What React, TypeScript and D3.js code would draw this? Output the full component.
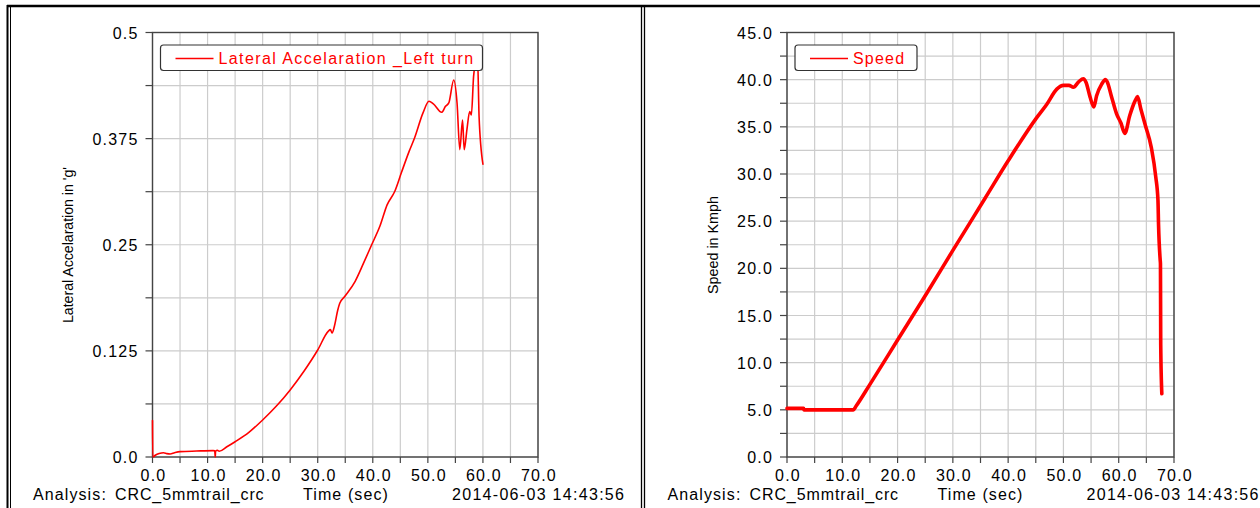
import React from "react";
import * as d3 from "d3";

// ---------- DATA ----------
const latTime = [0, 0.05, 0.5, 1.2, 2.0, 2.6, 3.2, 4.0, 5.0, 8.0, 11.0, 11.3, 11.4, 11.45, 11.8, 12.1, 13.5, 15.0, 17.5, 20, 22.5, 25, 27.5, 30, 31.9, 32.3, 32.6, 33.1, 33.6, 34.0, 34.9, 36.8, 38.3, 39.8, 41.3, 42.6, 44.0, 45.2, 46.6, 47.6, 49.1, 50.2, 51.0, 52.5, 53.2, 53.8, 54.7, 55.3, 55.8, 56.3, 56.6, 57.1, 57.6, 57.9, 58.3, 58.7, 59.0, 59.3, 60.0];
const latValue = [0.043, 0.0, 0.002, 0.004, 0.005, 0.004, 0.0035, 0.005, 0.0063, 0.007, 0.0075, 0.0072, 0.0, 0.007, 0.008, 0.0068, 0.012, 0.018, 0.029, 0.0436, 0.06, 0.079, 0.101, 0.126, 0.148, 0.15, 0.146, 0.156, 0.172, 0.181, 0.189, 0.207, 0.228, 0.25, 0.272, 0.297, 0.313, 0.335, 0.36, 0.376, 0.405, 0.419, 0.416, 0.406, 0.413, 0.417, 0.444, 0.417, 0.362, 0.397, 0.362, 0.386, 0.407, 0.403, 0.448, 0.468, 0.475, 0.401, 0.345];

const spdTime = [0, 3.0, 3.05, 12.0, 12.5, 15, 20, 25, 30, 35.8, 40, 45.2, 47, 48.8, 50, 51, 51.8, 52.8, 53.6, 54.1, 54.8, 55.5, 56.0, 56.9, 57.6, 57.9, 58.7, 59.6, 60.4, 61.1, 62.0, 63.0, 63.4, 64.0, 64.8, 65.9, 66.7, 67.1, 67.2, 67.5, 67.55, 67.6, 67.8];
const spdValue = [5.15, 5.15, 5.0, 5.0, 5.4, 7.7, 12.4, 17.1, 21.9, 27.4, 31.4, 36.0, 37.4, 39.0, 39.4, 39.4, 39.2, 39.8, 40.1, 39.7, 38.2, 37.1, 38.3, 39.5, 40.0, 39.8, 38.2, 36.4, 35.4, 34.3, 36.2, 37.8, 38.2, 36.9, 35.2, 32.8, 29.7, 27.2, 24.7, 20.9, 20.5, 11.9, 6.7];

const xTicks = [0, 10, 20, 30, 40, 50, 60, 70];
const latTicks = [0, 0.125, 0.25, 0.375, 0.5];
const latTickLabels = ["0.0", "0.125", "0.25", "0.375", "0.5"];
const spdTicks = [0, 5, 10, 15, 20, 25, 30, 35, 40, 45];

const footer = ["Analysis:", "CRC_5mmtrail_crc", "Time (sec)", "2014-06-03 14:43:56"];

const FONT = "'Liberation Sans', Arial, sans-serif";
const RED = "#ff0000";
const TXT = "#000";

type PanelProps = {
  ox: number;
  x0: number;
  x1: number;
  yMax: number;
  yTicks: number[];
  yLabels: string[];
  yMinorStep: number;
  yTitle: string;
  yTitleX: number;
  yTitleLen: number;
  times: number[];
  values: number[];
  strokeW: number;
  legend: string;
  legendW: number;
  legendLS: number;
};

function Panel(p: PanelProps) {
  const y0 = 32.5, y1 = 457;
  const x = d3.scaleLinear().domain([0, 70]).range([p.x0, p.x1]);
  const y = d3.scaleLinear().domain([0, p.yMax]).range([y1, y0]);
  const xGrid = d3.range(0, 70.001, 5);
  const yGrid = d3.range(0, p.yMax + 1e-9, p.yMinorStep);
  const pts: [number, number][] = p.times.map((t, i) => [t, p.values[i]]);
  const line = d3
    .line<[number, number]>()
    .x((d) => x(d[0]))
    .y((d) => y(d[1]))
    .curve(d3.curveMonotoneX);
  const lx = p.x0 + 8;
  return (
    <g fontFamily={FONT}>
      {xGrid.map((g) => (
        <line key={"gx" + g} x1={x(g)} x2={x(g)} y1={y0} y2={y1} stroke="#cccccc" strokeWidth={1.2} />
      ))}
      {yGrid.map((g) => (
        <line key={"gy" + g} x1={p.x0} x2={p.x1} y1={y(g)} y2={y(g)} stroke="#cccccc" strokeWidth={1.2} />
      ))}
      {yGrid.map((g) => (
        <line key={"ty" + g} x1={p.x0 - 7} x2={p.x0} y1={y(g)} y2={y(g)} stroke="#444" strokeWidth={1.2} />
      ))}
      {xGrid.map((g) => (
        <line key={"tx" + g} x1={x(g)} x2={x(g)} y1={y1} y2={y1 + 6} stroke="#444" strokeWidth={1.2} />
      ))}
      <rect x={p.x0} y={y0} width={p.x1 - p.x0} height={y1 - y0} fill="none" stroke="#444" strokeWidth={1.4} />
      <path d={line(pts) || ""} fill="none" stroke={RED} strokeWidth={p.strokeW} strokeLinejoin="round" strokeLinecap="round" />
      <rect x={lx} y={45} width={p.legendW} height={25.5} rx={3} fill="#fff" stroke="#333" strokeWidth={1.2} />
      <line x1={lx + 15} x2={lx + 53} y1={58.5} y2={58.5} stroke={RED} strokeWidth={1.6} />
      <text x={lx + 58} y={64} fontSize={16} fill={RED} letterSpacing={p.legendLS}>{p.legend}</text>
      {p.yTicks.map((t, i) => (
        <text key={"yl" + t} x={p.x0 - 14} y={y(t) + 6} fontSize={16} textAnchor="end" letterSpacing={1.2} fill={TXT}>{p.yLabels[i]}</text>
      ))}
      {xTicks.map((t) => (
        <text key={"xl" + t} x={x(t) + 1} y={480.5} fontSize={16} textAnchor="middle" letterSpacing={1.2} fill={TXT}>{t.toFixed(1)}</text>
      ))}
      <text transform={`translate(${p.yTitleX},245) rotate(-90)`} fontSize={14} textAnchor="middle" textLength={p.yTitleLen} lengthAdjust="spacingAndGlyphs" fill={TXT}>{p.yTitle}</text>
      <text x={p.ox + 33} y={500} fontSize={16} letterSpacing={1.1} fill={TXT}>{footer[0]}</text>
      <text x={p.ox + 115} y={500} fontSize={16} letterSpacing={0.9} fill={TXT}>{footer[1]}</text>
      <text x={p.ox + 303} y={500} fontSize={16} letterSpacing={1.1} fill={TXT}>{footer[2]}</text>
      <text x={p.ox + 452} y={500} fontSize={16} letterSpacing={1.3} fill={TXT}>{footer[3]}</text>
    </g>
  );
}

export default function App() {
  return (
    <svg width={1260} height={508} style={{ position: "absolute", left: 0, top: 0, background: "#fff" }}>
      <rect x={0} y={0} width={1260} height={508} fill="#fff" />
      <line x1={7} x2={1260} y1={6} y2={6} stroke="#000" strokeWidth={2.5} />
      <line x1={7.5} x2={7.5} y1={5} y2={508} stroke="#000" strokeWidth={2} />
      <line x1={10.5} x2={10.5} y1={6} y2={508} stroke="#000" strokeWidth={1} />
      <line x1={641.5} x2={641.5} y1={6} y2={508} stroke="#000" strokeWidth={1.3} />
      <line x1={644.5} x2={644.5} y1={6} y2={508} stroke="#000" strokeWidth={1.3} />
      <Panel
        ox={0}
        x0={152.5}
        x1={538}
        yMax={0.5}
        yTicks={latTicks}
        yLabels={latTickLabels}
        yMinorStep={0.0625}
        yTitle="Lateral Accelaration in 'g'"
        yTitleX={73}
        yTitleLen={156}
        times={latTime}
        values={latValue}
        strokeW={1.6}
        legend="Lateral Accelaration _Left turn"
        legendW={322}
        legendLS={1.4}
      />
      <Panel
        ox={634.5}
        x0={787}
        x1={1174}
        yMax={45}
        yTicks={spdTicks}
        yLabels={spdTicks.map((v) => v.toFixed(1))}
        yMinorStep={2.5}
        yTitle="Speed in Kmph"
        yTitleX={718}
        yTitleLen={98}
        times={spdTime}
        values={spdValue}
        strokeW={3.6}
        legend="Speed"
        legendW={122}
        legendLS={1.2}
      />
    </svg>
  );
}
